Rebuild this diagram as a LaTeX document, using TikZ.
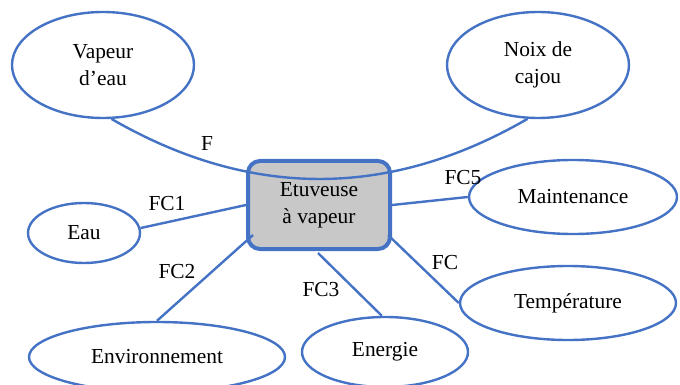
\documentclass[tikz,border=0pt]{standalone}
\usepackage{fontspec}
\setmainfont{Liberation Serif}
\usetikzlibrary{shapes.geometric}
\definecolor{bleulien}{HTML}{4472C4}
\definecolor{grisboite}{HTML}{C8C8C8}

\begin{document}
\begin{tikzpicture}[x=0.5pt,y=-0.5pt,
  txt/.style={font=\fontsize{10.7}{13.5}\selectfont},
  bulle/.style={ellipse, draw=bleulien, line width=1.2pt, inner sep=0pt, align=center, txt},
  lien/.style={draw=bleulien, line width=1.2pt}]
      \useasboundingbox (0,0) rectangle (680,385);
      % fonctions
      \node [bulle, minimum width=91pt, minimum height=53pt] (vap) at (103,65) {Vapeur\\d'eau};
      \node [bulle, minimum width=91pt, minimum height=53pt] (noix) at (538,65) {Noix de\\cajou};
      \node [bulle, minimum width=56pt, minimum height=30pt] (eau) at (84,233) {Eau};
      \node [bulle, minimum width=104pt, minimum height=37pt] (mnt) at (573,197) {Maintenance};
      \node [bulle, minimum width=108pt, minimum height=37pt] (temp) at (568,303) {Température};
      \node [bulle, minimum width=128pt, minimum height=35pt] (env) at (157,357) {Environnement};
      \node [bulle, minimum width=83pt, minimum height=35pt] (ene) at (385,352) {Energie};
      % produit
      \node [draw=bleulien, line width=2pt, fill=grisboite, rounded corners=6pt,
      minimum width=71pt, minimum height=44pt, align=center, txt] (etuv) at (319,205)
      {Etuveuse\\à vapeur};
      % liens
      \draw [lien] (vap.-81) .. controls (250,199) and (389,199) .. (noix.-101);
      \draw [lien] (eau.5) -- (etuv.west);
      \draw [lien] (etuv.east) -- (mnt.west);
      \draw [lien] ([shift={(-4,-16)}]etuv.south east) -- (temp.west);
      \draw [lien] ([shift={(7,-16)}]etuv.south west) -- (env.north);
      \draw [lien] ([shift={(-1,2)}]etuv.south) -- (ene.95);
      % etiquettes
      \node [txt] (f) at (207,143) {F};
      \node [txt] (fc1) at (167,204) {FC1};
      \node [txt] (fc5) at (463,178) {FC5};
      \node [txt] (fc) at (445,263) {FC};
      \node [txt] (fc2) at (177,272) {FC2};
      \node [txt] (fc3) at (321,290) {FC3};
\end{tikzpicture}
\end{document}
